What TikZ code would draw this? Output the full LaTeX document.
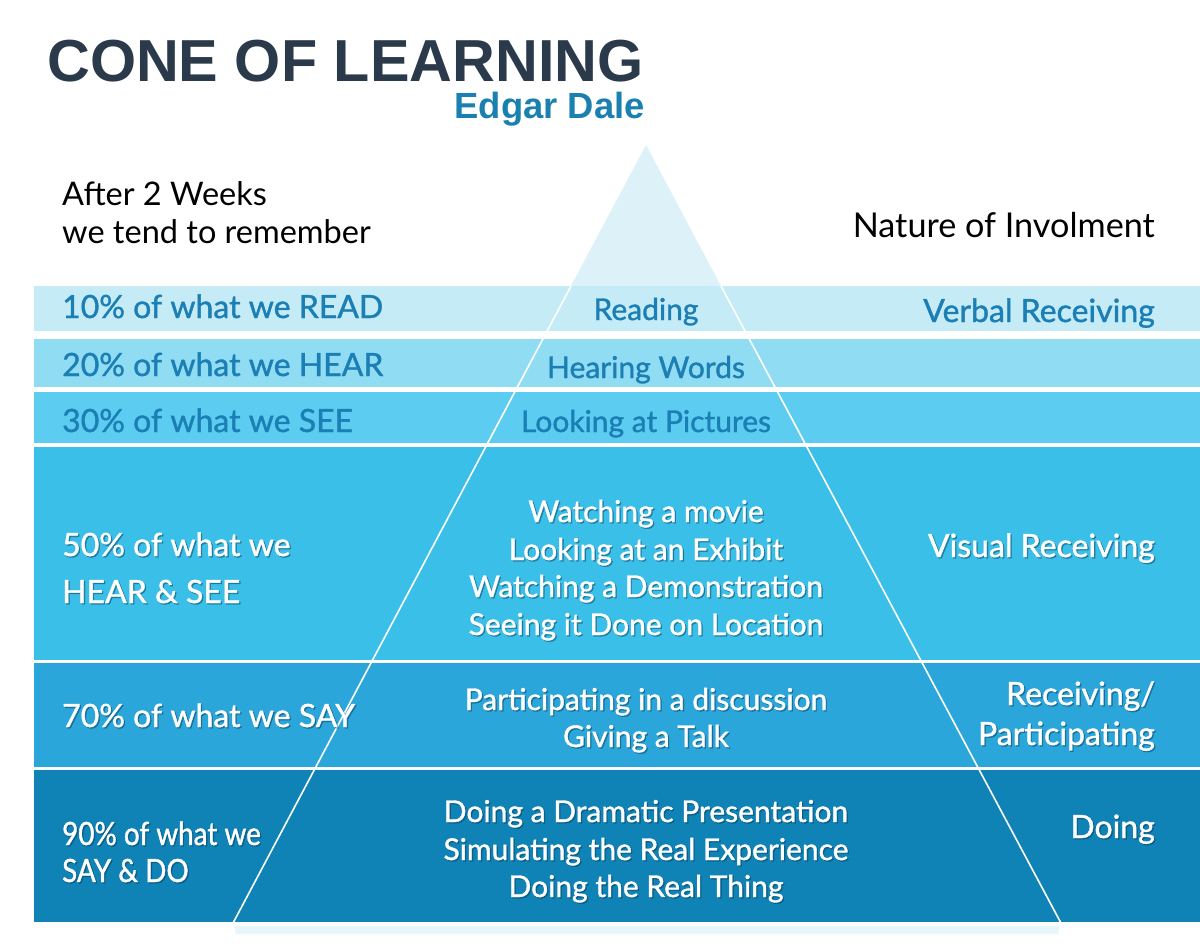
\documentclass[tikz,border=0pt]{standalone}
\usepackage{fontspec}
\setmainfont{Lato}
\newfontfamily\gill{Lato}[FakeBold=1.2]
\newfontfamily\gillc{Lato}[FakeStretch=0.87,FakeBold=1.2]
\newfontfamily\arialf{Liberation Sans}
\definecolor{bandA}{HTML}{C5ECF6}
\definecolor{bandB}{HTML}{8FDCF3}
\definecolor{bandC}{HTML}{5CCDF0}
\definecolor{bandD}{HTML}{3ABFE9}
\definecolor{bandE}{HTML}{2BA6DB}
\definecolor{bandF}{HTML}{0F82B6}
\definecolor{tipc}{HTML}{DDF2F8}
\definecolor{titlec}{HTML}{2B3A4B}
\definecolor{edgarc}{HTML}{1A80B0}
\definecolor{txtblue}{HTML}{1B7FB5}
\definecolor{shadowc}{HTML}{0A3D5A}
\tikzset{
  bandbox/.style={fill=#1, draw=none},
  pyrline/.style={draw=white, line width=1.6pt},
  sideF/.style={font=\gill\fontsize{32}{32}\selectfont},
  midF/.style={font=\gill\fontsize{30}{30}\selectfont},
  condF/.style={font=\gillc\fontsize{32}{32}\selectfont},
  btx/.style={text=txtblue, inner sep=0pt},
  wtx/.style={text=white, inner sep=0pt},
  wsh/.style={text=shadowc, text opacity=0.45, inner sep=0pt},
  ktx/.style={text=black, inner sep=0pt, font=\fontsize{32.5}{32.5}\selectfont},
}
% #1 name, #2 anchor, #3 font style, #4 coordinate, #5 text
\newcommand\wline[5]{%
  \node[wsh,#3,anchor=#2] (#1s) at ([xshift=1.3pt,yshift=-1.3pt]#4) {#5};
  \node[wtx,#3,anchor=#2] (#1) at (#4) {#5};}
\begin{document}
\begin{tikzpicture}[x=1pt,y=-1pt]
\useasboundingbox (0,0) rectangle (1200,947);
\fill[white] (0,0) rectangle (1200,947);
% pyramid tip
\fill[tipc] (646,145) -- (571,286) -- (721,286) -- cycle;
% bands
\fill[bandbox=bandA] (34,286) rectangle (1200,331);
\fill[bandbox=bandB] (34,339) rectangle (1200,387);
\fill[bandbox=bandC] (34,392) rectangle (1200,443);
\fill[bandbox=bandD] (34,447) rectangle (1200,660);
\fill[bandbox=bandE] (34,663) rectangle (1200,767);
\fill[bandbox=bandF] (34,770) rectangle (1200,922);
% bottom shadow
\fill[tipc!70!white] (234,924) -- (1060,924) -- (1058,934) -- (236,934) -- cycle;
% pyramid
\coordinate (apex) at (646,145);
\coordinate (bl) at (232,925);
\coordinate (br) at (1062,925);
\draw[pyrline] (571,286) -- (bl);
\draw[pyrline] (721,286) -- (br);
\draw[pyrline] (bl) -- (br);
\foreach \y in {661.5,768.5}{
  \draw[pyrline] (34,\y) -- (1200,\y);
}
% title
\node[anchor=base west, inner sep=0pt, text=titlec, font=\arialf\bfseries\fontsize{59.3}{60}\selectfont] (title) at (47,82) {CONE OF LEARNING};
\node[anchor=base east, inner sep=0pt, text=edgarc, font=\arialf\bfseries\fontsize{36.4}{37}\selectfont] (sub) at (645,119) {Edgar Dale};
% headers
\node[ktx,anchor=base west] (h1) at (62,205) {After 2 Weeks};
\node[ktx,anchor=base west] (h2) at (62,243) {we tend to remember};
\node[ktx,anchor=base east,font=\fontsize{34.2}{34.2}\selectfont] (h3) at (1155,237) {Nature of Involment};
% band 1-3
\node[btx,sideF,anchor=base west] (l1) at (62,318) {10\% of what we READ};
\node[btx,midF,anchor=base] (c1) at (646,320) {Reading};
\node[btx,sideF,anchor=base east] (r1) at (1155,322) {Verbal Receiving};
\node[btx,sideF,anchor=base west] (l2) at (62,376) {20\% of what we HEAR};
\node[btx,midF,anchor=base] (c2) at (646,378) {Hearing Words};
\node[btx,sideF,anchor=base west] (l3) at (62,432) {30\% of what we SEE};
\node[btx,midF,anchor=base] (c3) at (646,432) {Looking at Pictures};
% band 4
\wline{l4a}{base west}{sideF}{62,556}{50\% of what we}
\wline{l4b}{base west}{sideF}{62,603}{HEAR \& SEE}
\wline{c4a}{base}{midF}{646,522}{Watching a movie}
\wline{c4b}{base}{midF}{646,560}{Looking at an Exhibit}
\wline{c4c}{base}{midF}{646,597}{Watching a Demonstration}
\wline{c4d}{base}{midF}{646,635}{Seeing it Done on Location}
\wline{r4}{base east}{sideF}{1155,557}{Visual Receiving}
% band 5
\wline{l5}{base west}{sideF}{62,727}{70\% of what we SAY}
\wline{c5a}{base}{midF}{646,710}{Participating in a discussion}
\wline{c5b}{base}{midF}{646,747}{Giving a Talk}
\wline{r5a}{base east}{sideF}{1155,705}{Receiving/}
\wline{r5b}{base east}{sideF}{1155,745}{Participating}
% band 6
\wline{l6a}{base west}{condF}{62,845}{90\% of what we}
\wline{l6b}{base west}{condF}{62,882}{SAY \& DO}
\wline{c6a}{base}{midF}{646,822}{Doing a Dramatic Presentation}
\wline{c6b}{base}{midF}{646,860}{Simulating the Real Experience}
\wline{c6c}{base}{midF}{646,897}{Doing the Real Thing}
\wline{r6}{base east}{sideF}{1155,838}{Doing}
\end{tikzpicture}
\end{document}
